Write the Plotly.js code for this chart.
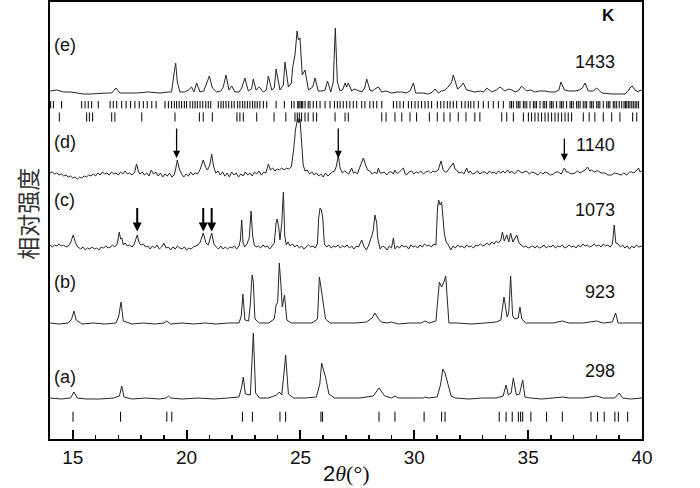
<!DOCTYPE html>
<html><head><meta charset="utf-8">
<script src="https://cdn.plot.ly/plotly-3.0.1.min.js"></script>
<style>html,body{margin:0;padding:0;background:#fff}</style>
</head><body><div id="chart" style="width:700px;height:488px"></div>
<script>
// ---- data (2θ, intensity above each pattern's own baseline) ----
const patternA = [[14.0,1],[14.5,0],[14.9,1],[15.05,7],[15.2,1],[15.6,0],[16.2,0],[16.8,1],[17.05,3],[17.15,13],[17.25,2],[17.6,0],[18.2,1],[18.8,0],[19.1,1],[19.2,3],[19.3,1],[19.8,0],[20.5,1],[21.2,0],[21.8,1],[22.3,2],[22.42,12],[22.49,22],[22.58,5],[22.8,4],[22.93,66],[23.03,6],[23.2,1],[23.6,1],[23.95,4],[24.07,7],[24.18,4],[24.35,44],[24.47,5],[24.7,1],[25.2,1],[25.7,2],[25.85,15],[25.93,36],[26.0,30],[26.1,22],[26.25,5],[26.5,1],[27.0,1],[27.6,1],[28.2,3],[28.45,11],[28.7,3],[29.0,1],[29.15,3],[29.3,1],[29.8,1],[30.4,1],[30.47,2],[30.6,1],[31.0,2],[31.15,14],[31.25,30],[31.35,26],[31.5,13],[31.62,3],[31.8,1],[32.4,0],[33.0,1],[33.6,1],[33.9,3],[34.03,14],[34.13,4],[34.25,6],[34.35,21],[34.48,4],[34.62,5],[34.76,19],[34.86,2],[35.1,1],[35.6,0],[36.3,1],[36.53,2],[36.8,1],[37.4,1],[38.0,3],[38.3,1],[38.8,1],[39.0,6],[39.15,1],[39.5,0],[40.0,1]];

const patternB = [[14.0,1],[14.4,0],[14.8,1],[14.95,5],[15.05,13],[15.15,4],[15.4,0],[15.9,1],[16.4,0],[16.9,1],[17.02,8],[17.12,22],[17.22,3],[17.6,0],[18.1,1],[18.6,0],[19.0,1],[19.13,3],[19.3,0],[19.8,1],[20.3,0],[20.8,1],[21.3,0],[21.8,1],[22.3,1],[22.4,8],[22.47,30],[22.56,4],[22.72,3],[22.8,20],[22.85,41],[22.88,49],[22.93,42],[23.0,5],[23.2,1],[23.6,1],[23.85,5],[23.93,19],[24.0,22],[24.07,61],[24.14,40],[24.2,17],[24.3,29],[24.4,4],[24.6,1],[25.0,1],[25.5,1],[25.75,5],[25.83,47],[25.9,37],[26.0,21],[26.1,5],[26.3,1],[26.8,1],[27.4,1],[27.9,2],[28.15,6],[28.27,11],[28.4,6],[28.55,2],[28.8,1],[29.0,2],[29.3,0],[29.8,1],[30.3,1],[30.47,3],[30.65,1],[30.95,3],[31.05,30],[31.1,42],[31.2,37],[31.3,42],[31.38,48],[31.45,20],[31.52,1],[31.9,1],[32.5,0],[33.1,1],[33.6,2],[33.8,4],[33.94,27],[34.02,15],[34.08,7],[34.15,12],[34.23,48],[34.32,8],[34.4,5],[34.56,6],[34.64,17],[34.72,5],[34.9,1],[35.5,1],[36.1,1],[36.5,3],[36.8,1],[37.4,1],[38.0,3],[38.3,1],[38.7,2],[38.84,11],[38.95,1],[39.4,1],[40.0,1]];

const patternC = [[14.0,3],[14.1,1],[14.2,3],[14.3,2],[14.4,4],[14.5,2],[14.6,3],[14.7,1],[14.8,2],[14.9,5],[15.02,13],[15.12,5],[15.22,1],[15.35,-1],[15.45,1],[15.55,-2],[15.65,0],[15.75,-1],[15.85,1],[15.95,-1],[16.05,0],[16.15,-2],[16.25,1],[16.35,0],[16.45,2],[16.55,0],[16.65,1],[16.75,3],[16.85,1],[16.95,4],[17.04,16],[17.1,9],[17.16,10],[17.22,3],[17.3,5],[17.4,2],[17.5,3],[17.6,1],[17.7,4],[17.83,13],[17.92,5],[18.0,3],[18.1,4],[18.2,1],[18.3,2],[18.4,-1],[18.5,2],[18.6,0],[18.7,3],[18.8,-1],[18.9,1],[19.0,5],[19.1,0],[19.2,1],[19.3,-2],[19.4,1],[19.5,-1],[19.6,2],[19.7,0],[19.8,-1],[19.9,1],[20.0,-2],[20.1,0],[20.2,-1],[20.3,1],[20.4,2],[20.5,3],[20.6,6],[20.73,15],[20.85,5],[20.95,3],[21.1,15],[21.2,4],[21.3,1],[21.4,-1],[21.5,2],[21.6,-1],[21.7,1],[21.8,-1],[21.9,1],[22.0,0],[22.1,2],[22.2,-1],[22.3,2],[22.36,8],[22.42,28],[22.48,5],[22.55,1],[22.65,4],[22.75,10],[22.83,37],[22.9,12],[22.97,3],[23.05,1],[23.15,2],[23.25,0],[23.35,3],[23.45,1],[23.55,2],[23.65,-1],[23.75,2],[23.85,5],[23.93,25],[23.98,29],[24.05,20],[24.1,8],[24.18,25],[24.25,56],[24.31,12],[24.38,3],[24.45,6],[24.55,2],[24.65,4],[24.75,1],[24.85,3],[24.95,0],[25.05,2],[25.15,-1],[25.25,1],[25.35,3],[25.45,1],[25.55,2],[25.65,0],[25.75,5],[25.8,30],[25.86,40],[25.92,38],[25.98,30],[26.05,4],[26.15,1],[26.25,3],[26.35,0],[26.45,2],[26.55,1],[26.65,3],[26.75,0],[26.85,2],[26.95,1],[27.05,3],[27.15,0],[27.25,2],[27.35,-1],[27.45,2],[27.55,1],[27.69,8],[27.8,1],[27.9,-2],[28.0,3],[28.13,12],[28.2,18],[28.27,33],[28.35,25],[28.39,10],[28.5,-1],[28.6,2],[28.7,1],[28.8,-2],[28.9,2],[29.0,0],[29.08,10],[29.15,-1],[29.25,2],[29.35,0],[29.45,3],[29.55,1],[29.65,2],[29.75,-1],[29.85,3],[29.95,1],[30.05,2],[30.15,0],[30.25,3],[30.35,1],[30.45,4],[30.55,2],[30.65,3],[30.75,1],[30.85,4],[30.95,3],[31.02,40],[31.07,48],[31.13,43],[31.2,46],[31.27,30],[31.32,14],[31.4,6],[31.5,3],[31.6,-2],[31.7,2],[31.8,0],[31.9,3],[32.0,1],[32.1,2],[32.2,0],[32.3,3],[32.4,1],[32.5,2],[32.6,0],[32.7,3],[32.8,2],[32.9,4],[33.0,2],[33.1,3],[33.2,5],[33.3,3],[33.4,6],[33.5,4],[33.6,7],[33.7,5],[33.8,8],[33.87,16],[33.95,7],[34.06,13],[34.15,6],[34.23,15],[34.33,6],[34.4,9],[34.5,13],[34.6,5],[34.7,3],[34.8,1],[34.9,2],[35.0,0],[35.1,1],[35.2,2],[35.3,0],[35.4,2],[35.5,0],[35.6,1],[35.7,3],[35.8,0],[35.9,2],[36.0,1],[36.1,3],[36.2,0],[36.3,2],[36.4,1],[36.5,3],[36.6,0],[36.7,1],[36.8,3],[36.9,1],[37.0,2],[37.1,0],[37.2,3],[37.3,1],[37.4,4],[37.5,2],[37.6,3],[37.7,1],[37.8,2],[37.9,4],[38.0,2],[38.1,3],[38.2,1],[38.3,4],[38.4,2],[38.5,3],[38.6,1],[38.7,4],[38.78,23],[38.85,5],[38.95,4],[39.05,1],[39.15,3],[39.25,0],[39.35,2],[39.45,-1],[39.55,2],[39.65,0],[39.75,3],[39.85,1],[40.0,2]];

const patternD = [[14.0,2],[14.1,3],[14.2,1],[14.3,2],[14.4,0],[14.5,1],[14.6,-1],[14.7,0],[14.8,-2],[14.9,-1],[15.0,-3],[15.1,-2],[15.2,-4],[15.3,-2],[15.4,-3],[15.5,-1],[15.6,-2],[15.7,0],[15.8,-1],[15.9,1],[16.0,-1],[16.1,2],[16.2,0],[16.3,3],[16.4,1],[16.5,2],[16.6,0],[16.7,3],[16.8,1],[16.9,2],[17.0,0],[17.1,3],[17.2,1],[17.3,4],[17.4,1],[17.5,2],[17.6,0],[17.72,3],[17.8,11],[17.88,4],[17.95,1],[18.05,3],[18.15,0],[18.25,2],[18.35,-1],[18.45,5],[18.55,1],[18.65,3],[18.75,-1],[18.85,2],[18.95,-2],[19.05,1],[19.15,-1],[19.25,2],[19.35,-2],[19.45,0],[19.52,6],[19.59,15],[19.68,6],[19.78,1],[19.88,-2],[19.98,1],[20.08,-1],[20.18,3],[20.28,0],[20.38,2],[20.48,1],[20.6,6],[20.73,15],[20.83,8],[20.92,5],[21.02,10],[21.1,21],[21.18,9],[21.28,2],[21.38,4],[21.48,0],[21.58,3],[21.68,-1],[21.78,2],[21.88,-2],[21.98,3],[22.08,0],[22.18,2],[22.28,-2],[22.38,1],[22.48,-1],[22.58,3],[22.68,0],[22.78,2],[22.88,-1],[22.98,3],[23.08,1],[23.18,4],[23.28,0],[23.38,3],[23.48,2],[23.59,11],[23.68,5],[23.78,7],[23.88,4],[23.98,6],[24.08,5],[24.18,7],[24.28,5],[24.38,7],[24.48,6],[24.6,8],[24.7,25],[24.78,45],[24.88,57],[24.93,52],[24.98,56],[25.05,35],[25.12,10],[25.2,4],[25.3,5],[25.4,1],[25.5,3],[25.6,0],[25.7,2],[25.8,-1],[25.9,1],[26.0,-2],[26.1,2],[26.2,-1],[26.3,1],[26.4,3],[26.5,4],[26.58,9],[26.66,20],[26.74,7],[26.84,2],[26.94,4],[27.0,3],[27.12,1],[27.25,7],[27.33,2],[27.4,3],[27.5,1],[27.61,8],[27.76,17],[27.86,10],[27.95,5],[28.05,4],[28.15,1],[28.27,3],[28.35,1],[28.42,7],[28.5,2],[28.57,2],[28.68,3],[28.79,0],[28.9,3],[29.01,3],[29.08,1],[29.15,5],[29.22,2],[29.3,2],[29.4,4],[29.52,7],[29.6,1],[29.66,0],[29.76,3],[29.88,4],[29.98,1],[30.08,3],[30.18,2],[30.28,4],[30.4,1],[30.5,3],[30.62,4],[30.72,2],[30.82,4],[30.91,3],[31.05,5],[31.17,14],[31.27,5],[31.35,3],[31.42,3],[31.52,6],[31.61,8],[31.71,12],[31.79,6],[31.86,5],[31.95,2],[32.08,3],[32.18,1],[32.3,7],[32.38,2],[32.45,4],[32.55,1],[32.67,2],[32.78,4],[32.88,1],[33.0,3],[33.1,3],[33.2,1],[33.3,4],[33.4,2],[33.5,3],[33.6,1],[33.69,4],[33.8,2],[33.9,4],[33.98,2],[34.1,5],[34.2,2],[34.28,4],[34.4,1],[34.5,3],[34.57,5],[34.7,2],[34.8,3],[34.93,4],[35.05,1],[35.15,3],[35.3,2],[35.42,0],[35.55,3],[35.65,1],[35.74,3],[35.85,2],[35.98,0],[36.11,1],[36.22,3],[36.33,3],[36.45,1],[36.59,7],[36.68,3],[36.76,3],[36.88,1],[37.0,2],[37.06,2],[37.18,4],[37.28,2],[37.35,3],[37.5,5],[37.61,8],[37.7,4],[37.79,5],[37.9,3],[38.0,4],[38.08,4],[38.2,2],[38.37,2],[38.5,0],[38.67,0],[38.8,2],[38.96,1],[39.1,0],[39.2,2],[39.33,0],[39.45,3],[39.55,3],[39.65,2],[39.77,5],[39.85,7],[39.91,3],[40.0,4]];

const patternE = [[14.0,2],[14.29,3],[14.6,1],[14.88,1],[15.2,0],[15.46,-1],[15.8,-1],[16.2,0],[16.5,0],[16.71,0],[16.9,5],[17.07,0],[17.4,0],[17.81,0],[18.3,1],[18.83,0],[19.2,1],[19.34,1],[19.45,20],[19.52,30],[19.59,11],[19.71,1],[19.9,1],[20.08,3],[20.22,6],[20.32,1],[20.44,10],[20.59,1],[20.75,2],[20.88,10],[21.0,17],[21.13,5],[21.32,1],[21.5,2],[21.61,6],[21.73,18],[21.86,3],[21.98,7],[22.12,1],[22.3,1],[22.42,5],[22.56,15],[22.71,2],[22.85,4],[22.93,14],[23.05,3],[23.19,6],[23.37,1],[23.5,3],[23.59,17],[23.74,3],[23.85,5],[23.93,24],[24.1,3],[24.25,8],[24.32,31],[24.47,6],[24.6,10],[24.66,26],[24.76,38],[24.85,62],[24.91,53],[24.98,55],[25.08,18],[25.2,23],[25.35,3],[25.54,6],[25.64,15],[25.78,2],[25.95,2],[26.08,3],[26.19,12],[26.33,1],[26.44,11],[26.53,65],[26.62,11],[26.74,2],[26.85,3],[26.96,10],[27.03,6],[27.1,10],[27.25,2],[27.35,4],[27.47,3],[27.69,1],[27.82,5],[27.91,14],[28.05,3],[28.15,2],[28.27,4],[28.42,6],[28.57,1],[28.75,2],[29.01,0],[29.25,1],[29.45,1],[29.65,0],[29.81,2],[29.96,10],[30.06,0],[30.35,0],[30.62,-1],[30.8,1],[30.91,4],[31.05,0],[31.2,2],[31.35,3],[31.49,6],[31.64,11],[31.71,18],[31.79,13],[31.9,4],[32.01,6],[32.15,10],[32.3,3],[32.45,2],[32.67,1],[32.9,2],[33.05,1],[33.18,5],[33.4,1],[33.6,3],[33.76,6],[33.98,2],[34.15,4],[34.28,3],[34.45,1],[34.6,3],[34.71,7],[34.93,2],[35.1,3],[35.3,1],[35.5,2],[35.74,2],[35.95,1],[36.18,1],[36.35,3],[36.44,11],[36.59,3],[36.8,2],[37.06,2],[37.25,3],[37.38,5],[37.5,10],[37.64,2],[37.85,2],[38.01,5],[38.23,0],[38.67,-1],[39.25,-1],[39.4,2],[39.47,5],[39.57,7],[39.69,3],[39.84,1],[39.91,3],[40.0,2]];

// reference-pattern tick positions (2θ)
const anPeaks = [14.03,14.15,14.51,15.39,15.54,15.68,15.83,16.12,16.64,16.78,16.93,17.15,17.34,17.54,17.73,17.92,18.10,18.27,18.47,18.66,19.05,19.20,19.34,19.46,19.56,19.67,19.78,19.90,20.00,20.15,20.27,20.37,20.47,20.59,20.71,20.84,20.95,21.06,21.39,21.51,21.61,21.73,21.85,21.98,22.09,22.24,22.34,22.46,22.56,22.67,22.78,22.90,23.00,23.10,23.22,23.37,23.52,23.93,24.29,24.61,24.72,24.88,24.93,24.98,25.05,25.10,25.20,25.34,25.42,25.56,25.71,25.86,26.08,26.30,26.49,26.62,26.74,26.88,27.03,27.17,27.32,27.47,27.69,27.83,28.05,28.20,28.35,28.57,29.08,29.23,29.37,29.52,29.74,29.88,30.03,30.17,30.32,30.47,30.61,30.76,31.01,31.16,31.30,31.45,31.57,31.71,31.86,32.08,32.23,32.37,32.48,32.62,32.81,33.03,33.25,33.47,33.69,33.91,34.20,34.27,34.35,34.50,34.57,34.64,34.79,34.86,34.94,35.08,35.23,35.30,35.37,35.52,35.66,35.73,35.81,35.96,36.03,36.10,36.25,36.40,36.47,36.54,36.69,36.84,36.90,36.98,37.13,37.20,37.28,37.42,37.50,37.57,37.72,37.79,37.86,38.01,38.08,38.15,38.30,38.45,38.52,38.59,38.74,38.81,38.89,39.00,39.11,39.21,39.27,39.33,39.40,39.47,39.55,39.62,39.70,39.77,39.85];
const wolPeaks = [14.41,15.61,15.73,15.87,16.71,16.85,18.03,19.49,20.56,20.73,21.13,22.21,22.34,22.49,23.08,23.84,24.36,24.76,24.86,24.95,25.05,25.20,25.34,25.56,25.71,26.52,26.96,27.10,28.57,28.76,29.15,29.45,29.81,30.10,30.66,31.01,31.30,31.57,31.93,32.27,32.66,32.88,33.84,34.06,34.35,34.79,35.01,35.15,35.30,35.44,35.59,35.74,35.88,36.03,36.18,36.32,36.47,36.62,36.76,36.91,37.42,37.68,37.93,38.30,38.67,39.03,39.59,39.77];
const prePeaks = [15.01,17.10,19.13,19.35,22.45,22.89,24.10,24.35,25.90,25.97,28.45,29.15,30.43,31.20,31.35,33.73,34.03,34.30,34.57,34.67,34.76,35.12,35.81,36.50,37.76,38.05,38.34,38.81,38.96,39.37];

const patternNames = ['(a)','(b)','(c)','(d)','(e)'];
const temperatures = ['298','923','1073','1140','1433'];
const xTickVals = [15,20,25,30,35,40];
const xTickText = ['15','20','25','30','35','40'];

// ---- layout of the stack (vertical positions, in axis units) ----
const stackOffsets = [40,115,191,264,346];
const labelLevels = [62,157,239,297,394];
const tempLevels = [68,147,229,294,377];
const rowLevels = {an:334.3, wol:322, pre:22.3};

const patterns = [patternA, patternB, patternC, patternD, patternE];
const lineColor = '#262626';
const traces = patterns.map((p,i)=>({
  type:'scatter', mode:'lines',
  x:p.map(d=>d[0]), y:p.map(d=>d[1]+stackOffsets[i]),
  line:{color:lineColor, width:1}, hoverinfo:'skip', showlegend:false
}));
function tickRow(vals, level, size){
  return {type:'scatter', mode:'markers', x:vals, y:vals.map(()=>level),
    marker:{symbol:'line-ns', size:size, color:'#000', line:{color:'#000', width:1}},
    hoverinfo:'skip', showlegend:false, cliponaxis:false};
}
traces.push(tickRow(anPeaks, rowLevels.an, 5.3));
traces.push(tickRow(wolPeaks, rowLevels.wol, 6.5));
traces.push(tickRow(prePeaks, rowLevels.pre, 7.2));

const fontMain = 'Arial, "Liberation Sans", sans-serif';
const ann = [];
patternNames.forEach((t,i)=>ann.push({x:14.09, y:labelLevels[i], xref:'x', yref:'y', text:t, showarrow:false, xanchor:'left', yanchor:'middle', font:{family:fontMain, size:18, color:'#111'}}));
temperatures.forEach((t,i)=>ann.push({x:38.9, y:tempLevels[i], xref:'x', yref:'y', text:t, showarrow:false, xanchor:'right', yanchor:'middle', font:{family:fontMain, size:18, color:'#111'}}));
ann.push({x:38.9, y:424, xref:'x', yref:'y', text:'<b>K</b>', showarrow:false, xanchor:'right', yanchor:'middle', font:{family:fontMain, size:17, color:'#111'}});
ann.push({x:40.39, y:335.5, xref:'x', yref:'y', text:'An', showarrow:false, xanchor:'left', yanchor:'middle', font:{family:fontMain, size:18, color:'#111'}});
ann.push({x:40.39, y:319, xref:'x', yref:'y', text:'Wol', showarrow:false, xanchor:'left', yanchor:'middle', font:{family:fontMain, size:18, color:'#111'}});
ann.push({x:40.39, y:20.7, xref:'x', yref:'y', text:'Pre', showarrow:false, xanchor:'left', yanchor:'middle', font:{family:fontMain, size:18, color:'#111'}});
// arrows marking new phases
const arrowsC = [17.83,20.73,21.10];
const arrowsD = [19.56,26.66];
arrowsC.forEach(x=>ann.push({x:x, y:207.5, xref:'x', yref:'y', ax:0, ay:-25, text:'', showarrow:true, arrowhead:2, arrowsize:0.9, arrowwidth:2, arrowcolor:'#000'}));
arrowsD.forEach(x=>ann.push({x:x, y:281, xref:'x', yref:'y', ax:0, ay:-31, text:'', showarrow:true, arrowhead:2, arrowsize:1.1, arrowwidth:1.3, arrowcolor:'#000'}));
ann.push({x:36.59, y:278, xref:'x', yref:'y', ax:0, ay:-24, text:'', showarrow:true, arrowhead:2, arrowsize:1.1, arrowwidth:1.3, arrowcolor:'#000'});
// axis titles
ann.push({x:-0.039, y:0.515, xref:'paper', yref:'paper', text:'相对强度', textangle:-90, showarrow:false, xanchor:'center', yanchor:'middle', font:{family:'"Noto Sans CJK SC", sans-serif', size:23, color:'#333'}});
ann.push({x:0.5, y:-0.078, xref:'paper', yref:'paper', text:'2<span style="font-family:\'Liberation Serif\', \'Times New Roman\', serif"><i>θ</i>(°)</span>', showarrow:false, xanchor:'center', yanchor:'middle', font:{family:fontMain, size:22, color:'#111'}});

const layout = {
  width:700, height:488,
  margin:{l:50, r:58, t:2, b:49, pad:0},
  paper_bgcolor:'#fff', plot_bgcolor:'#fff',
  showlegend:false,
  xaxis:{range:[14,40], tickvals:xTickVals, ticktext:xTickText, ticks:'inside', ticklen:9, tickwidth:2, tickcolor:'#000',
    minor:{dtick:1, tick0:14, ticks:'inside', ticklen:4, tickwidth:1.5, tickcolor:'#000'},
    showline:true, mirror:true, linewidth:2, linecolor:'#000', showgrid:false, zeroline:false,
    tickfont:{family:fontMain, size:19, color:'#111'}},
  yaxis:{range:[0,437], showticklabels:false, ticks:'', showline:true, mirror:true, linewidth:2, linecolor:'#000', showgrid:false, zeroline:false},
  annotations:ann
};
Plotly.newPlot('chart', traces, layout, {staticPlot:true, displayModeBar:false});
</script></body></html>
